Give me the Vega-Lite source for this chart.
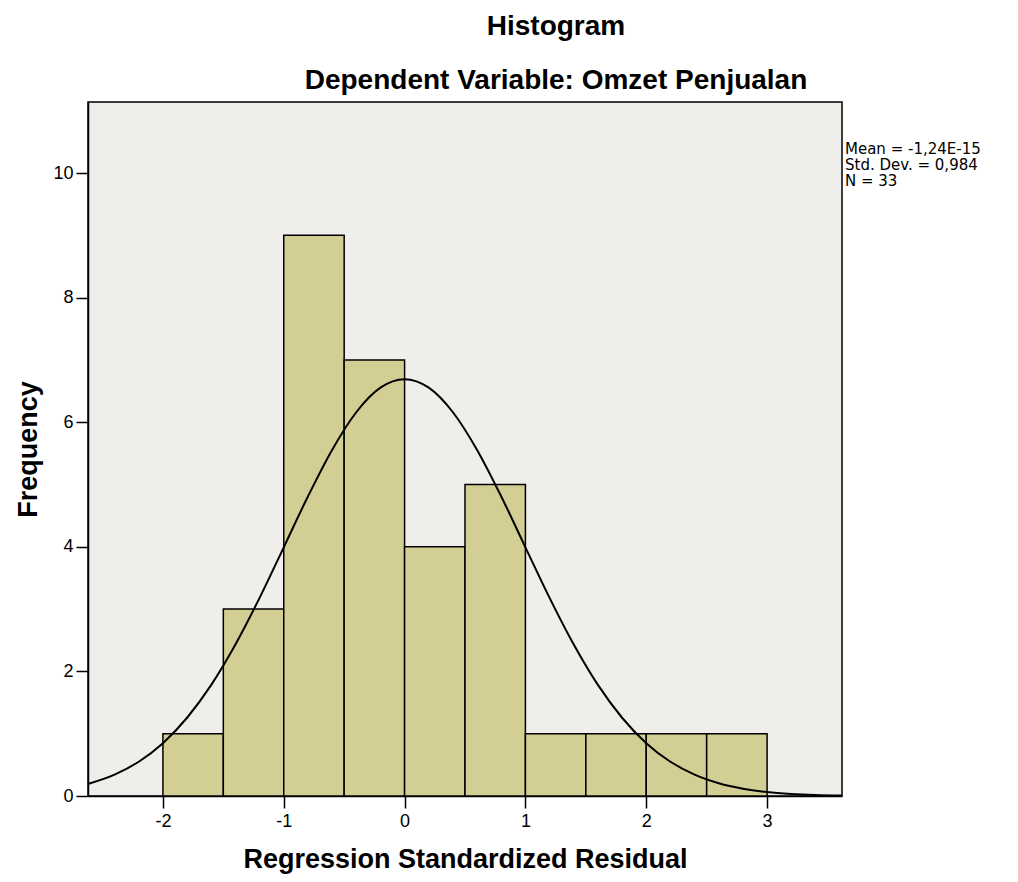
{
  "$schema": "https://vega.github.io/schema/vega-lite/v6.json",
  "autosize": "none",
  "width": 754,
  "height": 694,
  "padding": {"left": 88, "top": 102, "right": 176, "bottom": 86},
  "background": "#ffffff",
  "config": {
    "font": "Liberation Sans",
    "view": {"stroke": "#000000", "strokeWidth": 1.5, "fill": "#efeeea"}
  },
  "title": {
    "text": "Histogram",
    "subtitle": "Dependent Variable: Omzet Penjualan",
    "anchor": "middle",
    "dx": 91,
    "fontSize": 28,
    "fontWeight": "bold",
    "subtitleFontSize": 28,
    "subtitleFontWeight": "bold",
    "subtitleColor": "#000000",
    "color": "#000000",
    "subtitlePadding": 26,
    "offset": 7
  },
  "datasets": {
    "bins": [
      {"bin_start": -2.0, "bin_end": -1.5, "count": 1},
      {"bin_start": -1.5, "bin_end": -1.0, "count": 3},
      {"bin_start": -1.0, "bin_end": -0.5, "count": 9},
      {"bin_start": -0.5, "bin_end": 0.0, "count": 7},
      {"bin_start": 0.0, "bin_end": 0.5, "count": 4},
      {"bin_start": 0.5, "bin_end": 1.0, "count": 5},
      {"bin_start": 1.0, "bin_end": 1.5, "count": 1},
      {"bin_start": 1.5, "bin_end": 2.0, "count": 1},
      {"bin_start": 2.0, "bin_end": 2.5, "count": 1},
      {"bin_start": 2.5, "bin_end": 3.0, "count": 1}
    ],
    "curve": [
      {"x": -2.62, "y": 0.193},
      {"x": -2.4, "y": 0.342},
      {"x": -2.2, "y": 0.550},
      {"x": -2.0, "y": 0.848},
      {"x": -1.8, "y": 1.256},
      {"x": -1.6, "y": 1.783},
      {"x": -1.4, "y": 2.431},
      {"x": -1.2, "y": 3.180},
      {"x": -1.0, "y": 3.992},
      {"x": -0.8, "y": 4.808},
      {"x": -0.6, "y": 5.555},
      {"x": -0.4, "y": 6.160},
      {"x": -0.2, "y": 6.554},
      {"x": 0.0, "y": 6.690},
      {"x": 0.2, "y": 6.554},
      {"x": 0.4, "y": 6.160},
      {"x": 0.6, "y": 5.555},
      {"x": 0.8, "y": 4.808},
      {"x": 1.0, "y": 3.992},
      {"x": 1.2, "y": 3.180},
      {"x": 1.4, "y": 2.431},
      {"x": 1.6, "y": 1.783},
      {"x": 1.8, "y": 1.256},
      {"x": 2.0, "y": 0.848},
      {"x": 2.2, "y": 0.550},
      {"x": 2.4, "y": 0.342},
      {"x": 2.6, "y": 0.204},
      {"x": 2.8, "y": 0.117},
      {"x": 3.0, "y": 0.064},
      {"x": 3.2, "y": 0.034},
      {"x": 3.4, "y": 0.017},
      {"x": 3.62, "y": 0.008}
    ],
    "stats": [
      {"label": "Mean = -1,24E-15", "pos": 10.385},
      {"label": "Std. Dev. = 0,984", "pos": 10.128},
      {"label": "N = 33", "pos": 9.871}
    ]
  },
  "layer": [
    {
      "data": {"name": "bins"},
      "mark": {"type": "rect", "fill": "#d3cf94", "stroke": "#000000", "strokeWidth": 1.5},
      "encoding": {
        "x": {
          "field": "bin_start",
          "type": "quantitative",
          "scale": {"domain": [-2.62, 3.62], "nice": false, "zero": false},
          "axis": {
            "title": "Regression Standardized Residual",
            "titleFontSize": 27,
            "titleFontWeight": "bold",
            "titleColor": "#000000",
            "titlePadding": 16,
            "values": [-2, -1, 0, 1, 2, 3],
            "labelExpr": "'' + datum.value",
            "labelFontSize": 18,
            "labelColor": "#000000",
            "labelPadding": 4,
            "tickSize": 12,
            "tickWidth": 1.5,
            "tickColor": "#000000",
            "domainColor": "#000000",
            "domainWidth": 1.5,
            "grid": false
          }
        },
        "x2": {"field": "bin_end"},
        "y": {
          "field": "count",
          "type": "quantitative",
          "scale": {"domain": [0, 11.14], "nice": false},
          "axis": {
            "title": "Frequency",
            "titleFontSize": 27,
            "titleFontWeight": "bold",
            "titleColor": "#000000",
            "titlePadding": 10,
            "values": [0, 2, 4, 6, 8, 10],
            "labelExpr": "'' + datum.value",
            "labelFontSize": 18,
            "labelColor": "#000000",
            "labelPadding": 3,
            "tickSize": 12,
            "tickWidth": 1.5,
            "tickColor": "#000000",
            "domainColor": "#000000",
            "domainWidth": 1.5,
            "grid": false
          }
        },
        "y2": {"datum": 0}
      }
    },
    {
      "data": {"name": "curve"},
      "mark": {"type": "line", "color": "#000000", "strokeWidth": 2, "interpolate": "monotone"},
      "encoding": {
        "x": {"field": "x", "type": "quantitative"},
        "y": {"field": "y", "type": "quantitative"}
      }
    },
    {
      "data": {"name": "stats"},
      "mark": {"type": "text", "align": "left", "baseline": "middle", "dx": 3, "fontSize": 15, "font": "DejaVu Sans", "color": "#000000"},
      "encoding": {
        "x": {"datum": 3.62},
        "y": {"field": "pos", "type": "quantitative"},
        "text": {"field": "label"}
      }
    }
  ]
}
